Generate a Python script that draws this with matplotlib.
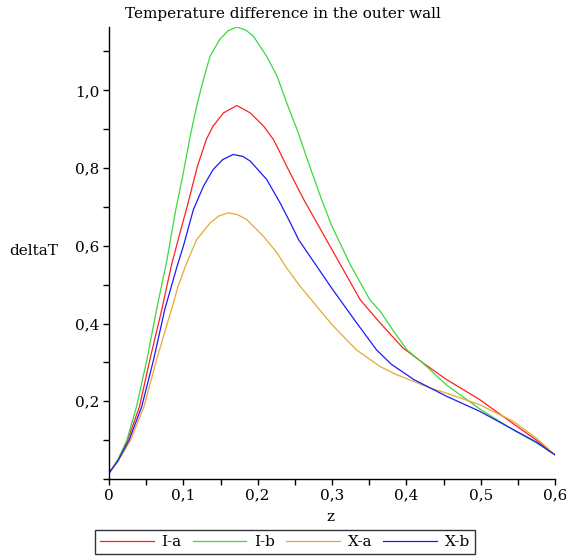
import numpy as np
import matplotlib
matplotlib.use("Agg")
import matplotlib.pyplot as plt
from matplotlib.ticker import MultipleLocator, FuncFormatter

# --- Data ---
z_ia = [0.000, 0.012, 0.025, 0.041, 0.055, 0.071, 0.084, 0.095, 0.105, 0.119,
        0.131, 0.140, 0.154, 0.172, 0.190, 0.208, 0.221, 0.228, 0.239, 0.255,
        0.262, 0.300, 0.338, 0.365, 0.395, 0.420, 0.454, 0.499, 0.544, 0.575, 0.600]
v_ia = [0.015, 0.048, 0.100, 0.186, 0.307, 0.436, 0.550, 0.630, 0.700, 0.805,
        0.874, 0.908, 0.942, 0.961, 0.942, 0.908, 0.874, 0.848, 0.805, 0.745,
        0.719, 0.590, 0.461, 0.401, 0.338, 0.302, 0.256, 0.204, 0.142, 0.100, 0.062]

z_ib = [0.000, 0.012, 0.024, 0.037, 0.051, 0.064, 0.078, 0.089, 0.100, 0.109,
        0.118, 0.127, 0.136, 0.149, 0.160, 0.172, 0.184, 0.194, 0.212, 0.226,
        0.239, 0.253, 0.270, 0.286, 0.300, 0.325, 0.351, 0.365, 0.383, 0.401,
        0.420, 0.454, 0.499, 0.544, 0.575, 0.600]
v_ib = [0.015, 0.050, 0.100, 0.186, 0.307, 0.436, 0.564, 0.685, 0.788, 0.880,
        0.960, 1.028, 1.088, 1.131, 1.153, 1.163, 1.155, 1.140, 1.088, 1.037,
        0.968, 0.899, 0.805, 0.719, 0.650, 0.550, 0.461, 0.431, 0.380, 0.332,
        0.302, 0.242, 0.180, 0.126, 0.093, 0.062]

z_xa = [0.000, 0.012, 0.029, 0.047, 0.064, 0.084, 0.093, 0.1045, 0.118, 0.136,
        0.148, 0.161, 0.173, 0.185, 0.208, 0.226, 0.239, 0.257, 0.300, 0.333,
        0.365, 0.385, 0.410, 0.432, 0.454, 0.499, 0.544, 0.575, 0.600]
v_xa = [0.015, 0.045, 0.100, 0.186, 0.307, 0.436, 0.496, 0.556, 0.616, 0.659,
        0.677, 0.685, 0.680, 0.668, 0.624, 0.582, 0.543, 0.496, 0.397, 0.332,
        0.289, 0.270, 0.251, 0.234, 0.221, 0.191, 0.148, 0.105, 0.062]

z_xb = [0.000, 0.012, 0.027, 0.044, 0.060, 0.075, 0.092, 0.100, 0.1135, 0.127,
        0.140, 0.153, 0.167, 0.180, 0.190, 0.212, 0.230, 0.244, 0.255, 0.300,
        0.330, 0.360, 0.380, 0.410, 0.454, 0.499, 0.544, 0.575, 0.600]
v_xb = [0.015, 0.047, 0.100, 0.186, 0.307, 0.436, 0.550, 0.599, 0.693, 0.753,
        0.796, 0.822, 0.835, 0.830, 0.818, 0.771, 0.711, 0.659, 0.616, 0.490,
        0.410, 0.332, 0.295, 0.256, 0.213, 0.174, 0.127, 0.095, 0.062]

names = ["I-a", "I-b", "X-a", "X-b"]
colors = ["#ff2020", "#3cd83c", "#e6a935", "#1a1aff"]
zs = [z_ia, z_ib, z_xa, z_xb]
vs = [v_ia, v_ib, v_xa, v_xb]

plt.rcParams['font.family'] = ['DejaVu Serif']
FS = 11

fig = plt.figure(figsize=(5.66, 5.59), dpi=100)
ax = fig.add_axes([109 / 566, 80 / 559, 446 / 566, 452 / 559])

lines = []
for name, zz, vv, col in zip(names, zs, vs, colors):
    ln, = ax.plot(zz, vv, color=col, lw=0.9, label=name)
    lines.append(ln)

ax.set_xlim(0, 0.6)
ax.set_ylim(0, max(v_ib))

for s in ['top', 'right']:
    ax.spines[s].set_visible(False)
for s in ['left', 'bottom']:
    ax.spines[s].set_linewidth(1.0)


def fmt(v, p):
    if abs(v) < 1e-9:
        return "0"
    return ("%.1f" % v).replace('.', ',')


ax.xaxis.set_major_locator(MultipleLocator(0.1))
ax.xaxis.set_minor_locator(MultipleLocator(0.05))
ax.yaxis.set_major_locator(MultipleLocator(0.2))
ax.yaxis.set_minor_locator(MultipleLocator(0.1))
ax.xaxis.set_major_formatter(FuncFormatter(fmt))
ax.yaxis.set_major_formatter(FuncFormatter(
    lambda v, p: "" if abs(v) < 1e-9 else fmt(v, p)))
ax.tick_params(which='both', direction='out', length=4, width=1.0,
               labelsize=FS, pad=3)

fig.text(283 / 566, 1 - 14 / 559, "Temperature difference in the outer wall",
         ha='center', va='center', fontsize=FS)
fig.text(34 / 566, 1 - 251 / 559, "deltaT", ha='center', va='center',
         fontsize=FS)
fig.text(330 / 566, 1 - 517 / 559, "z", ha='center', va='center',
         fontsize=FS)

leg = fig.legend(handles=lines, loc='center', ncol=4,
                 bbox_to_anchor=(285 / 566, 1 - 542 / 559),
                 fontsize=FS, frameon=True, fancybox=False,
                 handlelength=3.5, handletextpad=0.5, columnspacing=0.75,
                 borderpad=0.35, borderaxespad=0)
leg.get_frame().set_edgecolor('black')
leg.get_frame().set_linewidth(1.0)

fig.savefig("out.png", dpi=100)
